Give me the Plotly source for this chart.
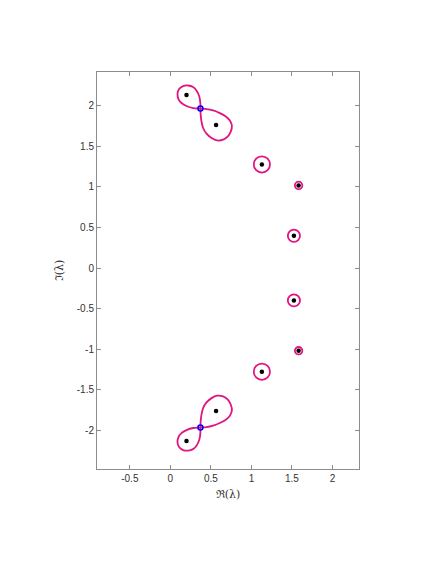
import numpy as np
import plotly.graph_objects as go

MAGENTA = "#E0157F"
INK = "#333333"
AXIS = "#8C8C8C"

# eigenvalues (black dots), upper half plane; the lower half is the conjugate
eig_re = [0.199, 0.564, 1.129, 1.582, 1.524]
eig_im = [2.131, 1.762, 1.276, 1.018, 0.398]

# point where the two lobes of the figure-eight touch (blue marker)
saddle_re = [0.371]
saddle_im = [1.964]

# figure-eight level curve round the first two eigenvalues (upper copy)
fig8_re = [0.371, 0.370, 0.357, 0.322, 0.280, 0.219, 0.157, 0.107, 0.088,
           0.100, 0.137, 0.199, 0.280, 0.371, 0.446, 0.527, 0.610, 0.684,
           0.734, 0.759, 0.746, 0.709, 0.651, 0.577, 0.508, 0.446, 0.404,
           0.384, 0.374, 0.371]
fig8_im = [1.964, 2.033, 2.114, 2.188, 2.230, 2.249, 2.242, 2.205, 2.147,
           2.082, 2.033, 1.996, 1.970, 1.964, 1.959, 1.941, 1.909, 1.868,
           1.818, 1.753, 1.683, 1.621, 1.581, 1.572, 1.602, 1.655, 1.725,
           1.806, 1.889, 1.964]

# radius of the small level circles round the isolated eigenvalues
iso_idx = [2, 3, 4]
iso_rad = [0.100, 0.046, 0.075]

x_ticks = [-0.5, 0, 0.5, 1, 1.5, 2]
x_labels = ["-0.5", "0", "0.5", "1", "1.5", "2"]
y_ticks = [-2, -1.5, -1, -0.5, 0, 0.5, 1, 1.5, 2]
y_labels = ["-2", "-1.5", "-1", "-0.5", "0", "0.5", "1", "1.5", "2"]

fig = go.Figure()

f8x = np.array(fig8_re)
f8y = np.array(fig8_im)
for sign in (1, -1):
    fig.add_trace(go.Scatter(
        x=f8x, y=sign * f8y, mode="lines",
        line=dict(color=MAGENTA, width=1.8, shape="spline", smoothing=1.0),
        hoverinfo="skip",
    ))

for i, r in zip(iso_idx, iso_rad):
    for sign in (1, -1):
        cx, cy = eig_re[i], sign * eig_im[i]
        fig.add_shape(
            type="circle", xref="x", yref="y",
            x0=cx - r, x1=cx + r, y0=cy - r, y1=cy + r,
            line=dict(color=MAGENTA, width=1.8), layer="below",
        )

all_re = eig_re + eig_re[::-1]
all_im = eig_im + [-v for v in eig_im[::-1]]
fig.add_trace(go.Scatter(
    x=all_re, y=all_im, mode="markers",
    marker=dict(size=4.5, color="black"), hoverinfo="skip",
))
fig.add_trace(go.Scatter(
    x=saddle_re + saddle_re, y=saddle_im + [-v for v in saddle_im], mode="markers",
    marker=dict(size=5, symbol="circle-open", color="blue", line=dict(width=1.5, color="blue")),
    hoverinfo="skip",
))

# the page body adds 8px on the top and left
fig.update_layout(
    width=433, height=561,
    margin=dict(l=89, r=82, t=64, b=100),
    paper_bgcolor="white", plot_bgcolor="white",
    showlegend=False,
    font=dict(family="Liberation Sans, Arial, sans-serif", size=10, color=INK),
)
axis_style = dict(
    showgrid=False, zeroline=False, showline=True, linecolor=AXIS, linewidth=1,
    mirror="allticks", ticks="inside", ticklen=4, tickcolor=AXIS,
    tickfont=dict(size=10, color=INK), automargin=False,
)
title_font = dict(family="DejaVu Serif, Liberation Serif, serif", size=11, color=INK)
fig.update_xaxes(
    range=[-0.905, 2.327], tickvals=x_ticks, ticktext=x_labels,
    title=dict(text="ℜ(λ)", standoff=7, font=title_font),
    **axis_style,
)
fig.update_yaxes(
    range=[-2.475, 2.415], tickvals=y_ticks, ticktext=y_labels,
    title=dict(text="ℑ(λ)", standoff=10, font=title_font),
    **axis_style,
)

fig.write_html("out.html")
